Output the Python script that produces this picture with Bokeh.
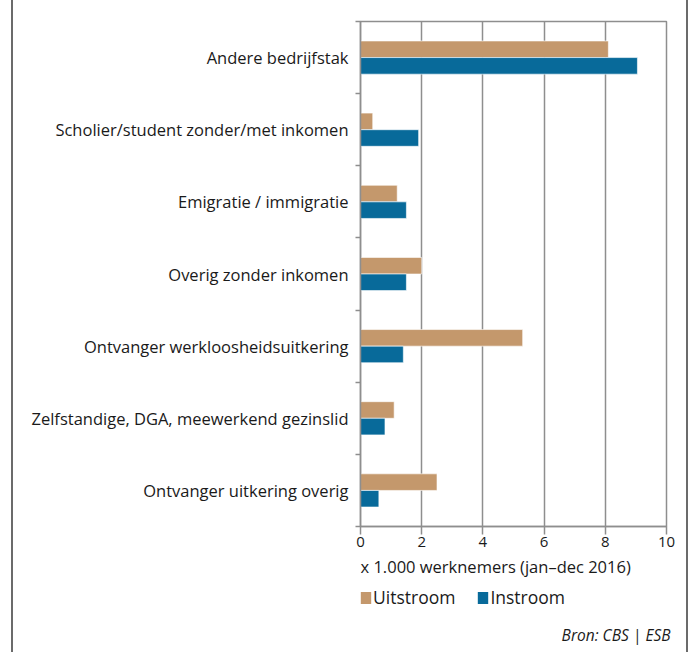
from bokeh.plotting import figure
from bokeh.models import (Range1d, FixedTicker, Legend, LegendItem, ColumnDataSource, Label, Title)
from bokeh.layouts import column
from bokeh.embed import file_html
from bokeh.resources import INLINE

categories = ["Andere bedrijfstak", "Scholier/student zonder/met inkomen",
              "Emigratie / immigratie", "Overig zonder inkomen",
              "Ontvanger werkloosheidsuitkering",
              "Zelfstandige, DGA, meewerkend gezinslid",
              "Ontvanger uitkering overig"]
uitstroom = [8.1, 0.4, 1.2, 2.0, 5.3, 1.1, 2.5]
instroom = [9.05, 1.9, 1.5, 1.5, 1.4, 0.8, 0.6]
x_ticks = [0, 2, 4, 6, 8, 10]
x_label = "x 1.000 werknemers (jan\u2013dec 2016)"
series_names = ["Uitstroom", "Instroom"]
source_text = "Bron: CBS | ESB"

FONT = "Open Sans"
TXT = "#1a1a1a"
GRID = "#8e8e8e"
C_UIT = "#C4986C"
C_IN = "#086A9A"
W = 677

n = len(categories)
centers = [n - i - 0.5 for i in range(n)]
bar_h = 0.23
src = ColumnDataSource(dict(
    y_uit=[c + bar_h / 2 for c in centers],
    y_in=[c - bar_h / 2 for c in centers],
    uit=uitstroom, ins=instroom))

# ---------------- main chart ----------------
p = figure(width=W, height=556, output_backend="svg", toolbar_location=None,
           x_range=Range1d(0, 10), y_range=Range1d(0, n),
           min_border_left=347, min_border_right=20, min_border_top=21,
           min_border_bottom=30)
p.background_fill_color = "white"
p.border_fill_color = "white"
p.outline_line_color = GRID
p.outline_line_width = 1.5

r_uit = p.hbar(y="y_uit", right="uit", left=0, height=bar_h, source=src,
               fill_color=C_UIT, line_color="white", line_width=1, line_alpha=0.6)
r_in = p.hbar(y="y_in", right="ins", left=0, height=bar_h, source=src,
              fill_color=C_IN, line_color="white", line_width=1, line_alpha=0.6)

xa = p.xaxis[0]
xa.ticker = FixedTicker(ticks=x_ticks, minor_ticks=[])
xa.axis_line_color = GRID
xa.axis_line_width = 1.5
xa.major_tick_line_color = GRID
xa.major_tick_line_width = 1.5
xa.major_tick_out = 8
xa.major_tick_in = 0
xa.minor_tick_line_color = None
xa.major_label_text_font = FONT
xa.major_label_text_font_size = "15px"
xa.major_label_text_color = TXT
xa.major_label_standoff = 2

ya = p.yaxis[0]
ya.ticker = FixedTicker(ticks=centers, minor_ticks=list(range(n + 1)))
ya.major_label_overrides = {c: lab for c, lab in zip(centers, categories)}
ya.axis_line_color = GRID
ya.axis_line_width = 1.5
ya.major_tick_line_color = None
ya.major_tick_out = 0
ya.major_tick_in = 0
ya.minor_tick_line_color = GRID
ya.minor_tick_line_width = 1.5
ya.minor_tick_out = 5
ya.minor_tick_in = 0
ya.major_label_text_font = FONT
ya.major_label_text_font_size = "16.5px"
ya.major_label_text_color = TXT
ya.major_label_standoff = 7

p.xgrid.ticker = FixedTicker(ticks=x_ticks)
p.xgrid.grid_line_color = GRID
p.xgrid.grid_line_width = 1.5
p.ygrid.grid_line_color = None

# ---------------- footer: axis title + legend ----------------
# (its plot area is aligned with the chart's plot area by the column layout)
FH = 60
FW = 310
q = figure(width=W, height=FH, output_backend="svg", toolbar_location=None,
           x_range=Range1d(0, FW), y_range=Range1d(0, FH),
           min_border_left=347, min_border_right=20, min_border_top=0,
           min_border_bottom=0, x_axis_location=None, y_axis_location=None)
q.outline_line_color = None
q.grid.grid_line_color = None
q.background_fill_color = "white"
q.border_fill_color = "white"

q.add_layout(Label(x=0, y=FH - 10, text=x_label, text_font=FONT, text_font_size="16.5px",
                   text_color=TXT, text_baseline="middle", text_align="left"))

# legend swatches (renderers placed outside the visible area; only their legend entries show)
d_uit = q.hbar(y=[-FH], right=[1], left=0, height=1, fill_color=C_UIT, line_color=None)
d_in = q.hbar(y=[-FH], right=[1], left=0, height=1, fill_color=C_IN, line_color=None)
legend = Legend(items=[LegendItem(label=series_names[0], renderers=[d_uit]),
                       LegendItem(label=series_names[1], renderers=[d_in])],
                location=(-1, 7), orientation="horizontal",
                glyph_width=13, glyph_height=15, label_standoff=1, spacing=21,
                padding=0, margin=0, border_line_color=None,
                background_fill_alpha=0,
                label_text_font=FONT, label_text_font_size="17.5px",
                label_text_color=TXT)
q.add_layout(legend, "center")

# ---------------- source line ----------------
s = figure(width=W, height=36, output_backend="svg", toolbar_location=None,
           x_range=Range1d(0, 1), y_range=Range1d(0, 1),
           min_border_left=347, min_border_right=20, min_border_top=30,
           min_border_bottom=0, x_axis_location=None, y_axis_location=None)
s.outline_line_color = None
s.grid.grid_line_color = None
s.border_fill_color = "white"
s.title = Title(text=source_text, align="right", offset=-4, standoff=0,
                vertical_align="middle", text_font=FONT, text_font_size="15.5px",
                text_font_style="italic", text_color=TXT)

lay = column(p, q, s, spacing=0)
lay.styles = {"border-left": "2px solid #6b6b6b", "border-right": "2px solid #6b6b6b",
              "margin-left": "11px", "width": "%dpx" % W}

open("out.html", "w").write(file_html(lay, INLINE))
